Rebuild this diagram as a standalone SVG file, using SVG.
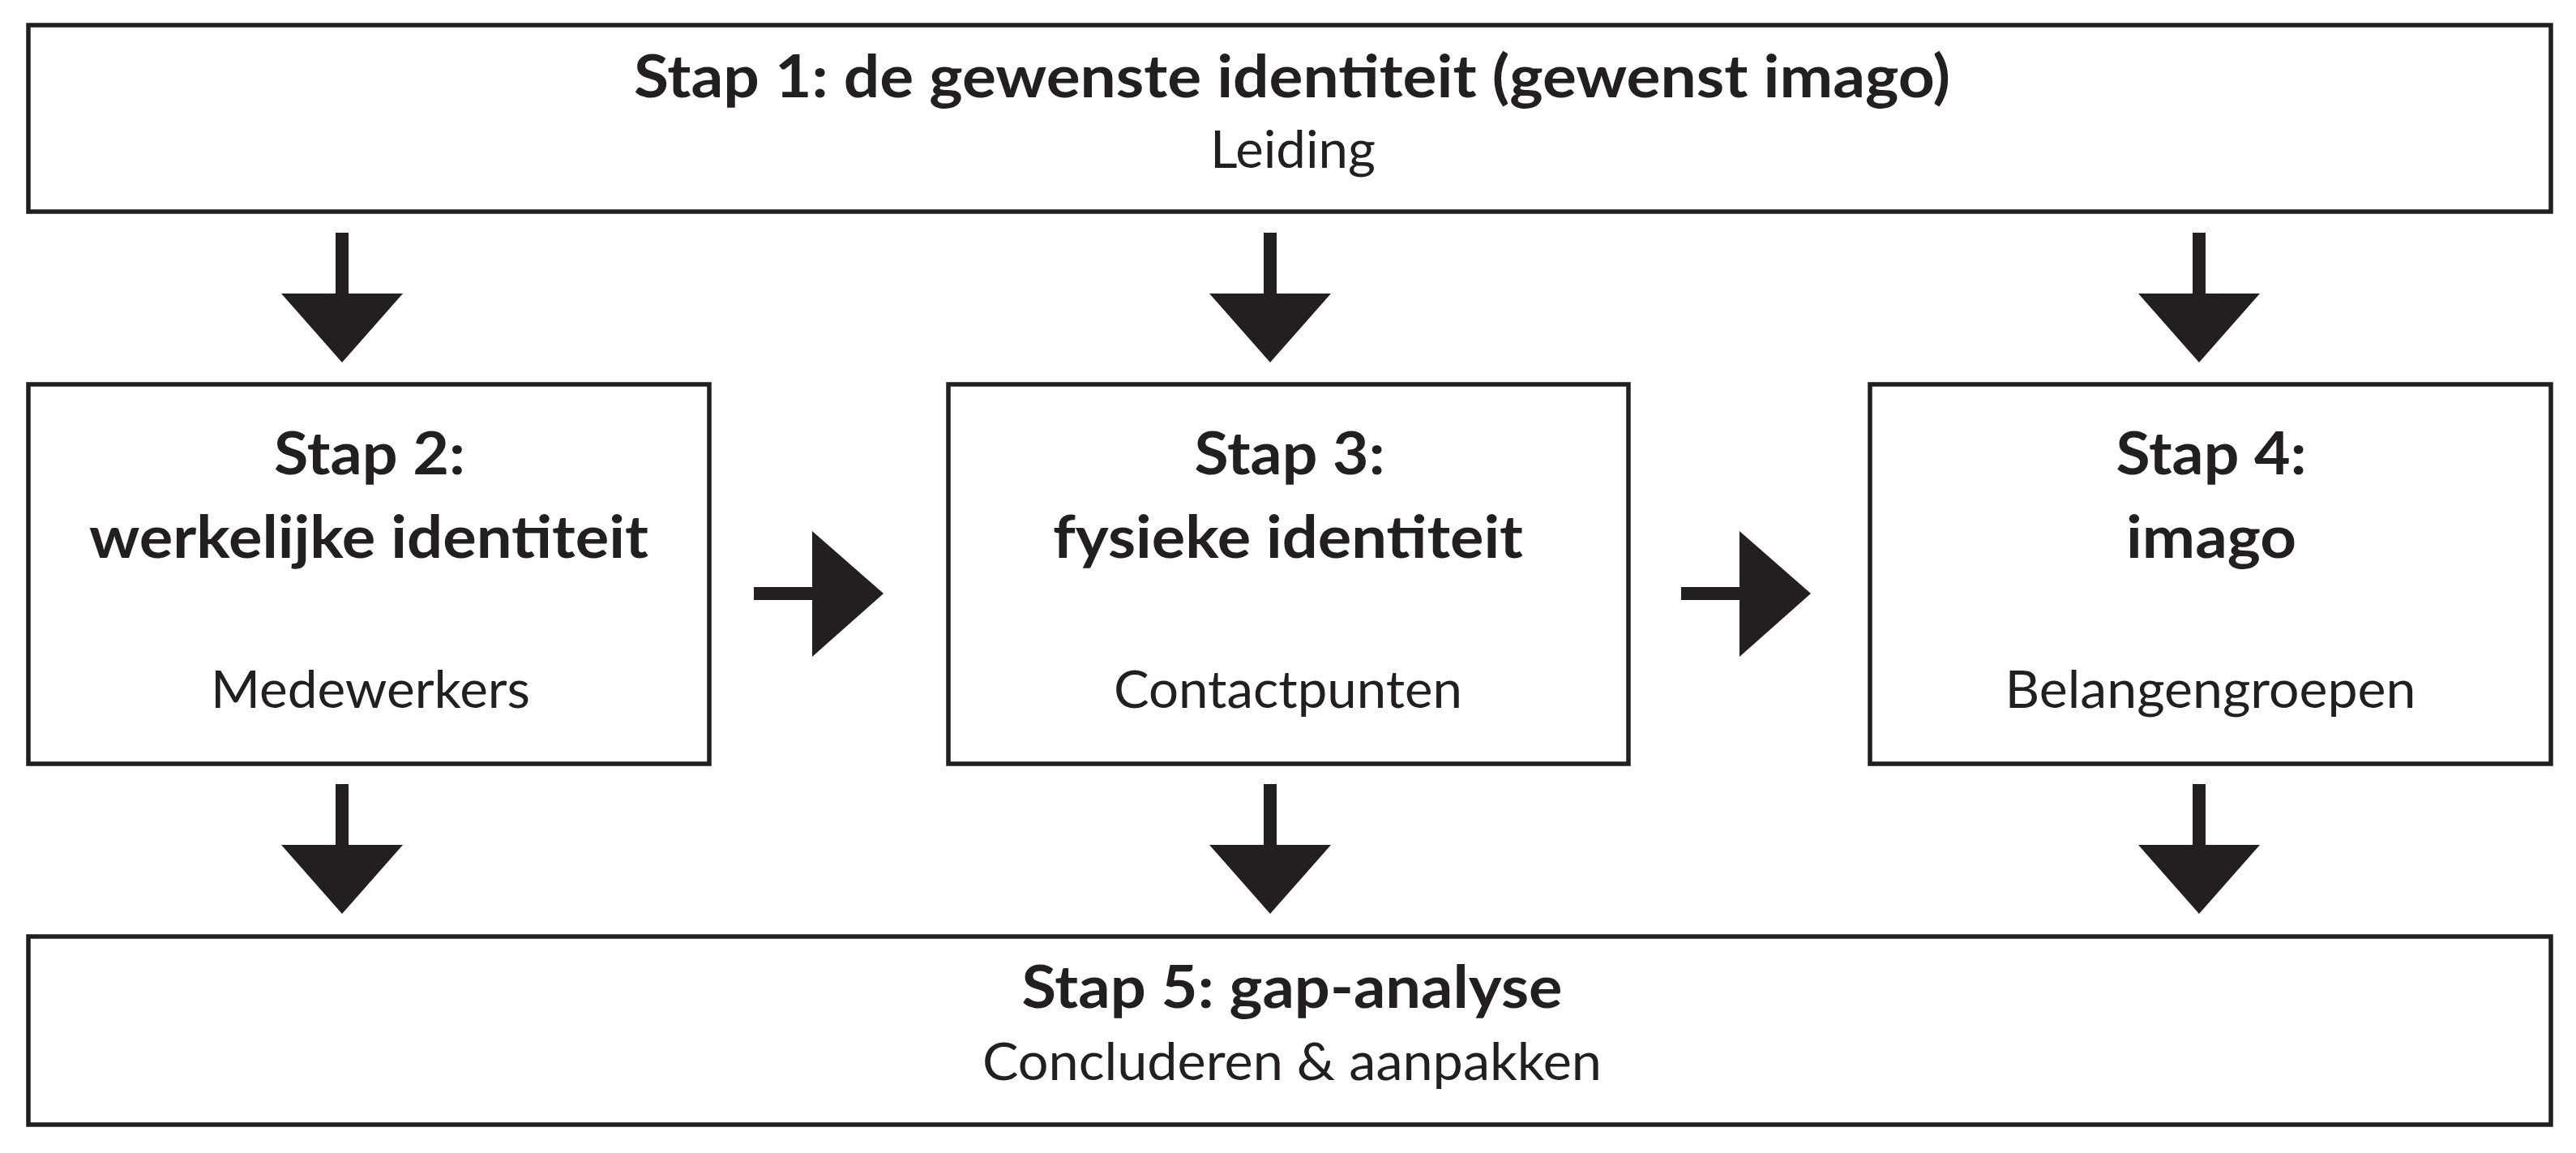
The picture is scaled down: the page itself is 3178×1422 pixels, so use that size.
<svg xmlns="http://www.w3.org/2000/svg" width="3178" height="1422" viewBox="0 0 3178 1422">
<style>
.box{fill:#ffffff;stroke:#231f20;stroke-width:5.5}
.h{font-family:Lato,"Open Sans","Liberation Sans",sans-serif;font-weight:700;font-size:73px;fill:#231f20;text-anchor:middle}
.r{font-family:Lato,"Open Sans","Liberation Sans",sans-serif;font-weight:400;font-size:63px;fill:#231f20;text-anchor:middle}
.shaft{stroke:#231f20;stroke-width:16;fill:none}
.head{fill:#231f20}
</style>
<rect width="3178" height="1422" fill="#ffffff"/>
<g id="stap1">
<rect class="box" x="35" y="31" width="3112" height="230"/>
<text class="h" x="1594" y="120" textLength="1624" lengthAdjust="spacingAndGlyphs">Stap 1: de gewenste identiteit (gewenst imago)</text>
<text class="r" x="1595" y="207" textLength="204" lengthAdjust="spacingAndGlyphs">Leiding</text>
</g>
<g id="stap2">
<rect class="box" x="35" y="474" width="840" height="468"/>
<text class="h" x="456" y="585" textLength="236" lengthAdjust="spacingAndGlyphs">Stap 2:</text>
<text class="h" x="455" y="688" textLength="690" lengthAdjust="spacingAndGlyphs">werkelijke identiteit</text>
<text class="r" x="457" y="873" textLength="394" lengthAdjust="spacingAndGlyphs">Medewerkers</text>
</g>
<g id="stap3">
<rect class="box" x="1170" y="474" width="839" height="468"/>
<text class="h" x="1591" y="585" textLength="235" lengthAdjust="spacingAndGlyphs">Stap 3:</text>
<text class="h" x="1589" y="688" textLength="580" lengthAdjust="spacingAndGlyphs">fysieke identiteit</text>
<text class="r" x="1589" y="873" textLength="430" lengthAdjust="spacingAndGlyphs">Contactpunten</text>
</g>
<g id="stap4">
<rect class="box" x="2307" y="474" width="840" height="468"/>
<text class="h" x="2728" y="585" textLength="235" lengthAdjust="spacingAndGlyphs">Stap 4:</text>
<text class="h" x="2728" y="688" textLength="210" lengthAdjust="spacingAndGlyphs">imago</text>
<text class="r" x="2727" y="873" textLength="507" lengthAdjust="spacingAndGlyphs">Belangengroepen</text>
</g>
<g id="stap5">
<rect class="box" x="35" y="1155" width="3112" height="232"/>
<text class="h" x="1594" y="1243" textLength="667" lengthAdjust="spacingAndGlyphs">Stap 5: gap-analyse</text>
<text class="r" x="1594" y="1332" textLength="764" lengthAdjust="spacingAndGlyphs">Concluderen &amp; aanpakken</text>
</g>
<g id="connectors">
<line class="shaft" x1="422" y1="287" x2="422" y2="366"/>
<polygon class="head" points="347,362 497,362 422,447"/>
<line class="shaft" x1="1567" y1="287" x2="1567" y2="366"/>
<polygon class="head" points="1492,362 1642,362 1567,447"/>
<line class="shaft" x1="2713" y1="287" x2="2713" y2="366"/>
<polygon class="head" points="2638,362 2788,362 2713,447"/>
<line class="shaft" x1="422" y1="967" x2="422" y2="1046"/>
<polygon class="head" points="347,1042 497,1042 422,1127"/>
<line class="shaft" x1="1567" y1="967" x2="1567" y2="1046"/>
<polygon class="head" points="1492,1042 1642,1042 1567,1127"/>
<line class="shaft" x1="2713" y1="967" x2="2713" y2="1046"/>
<polygon class="head" points="2638,1042 2788,1042 2713,1127"/>
<line class="shaft" x1="930" y1="732" x2="1006" y2="732"/>
<polygon class="head" points="1002,655 1002,810 1090,732"/>
<line class="shaft" x1="2074" y1="732" x2="2150" y2="732"/>
<polygon class="head" points="2146,655 2146,810 2234,732"/>
</g>
</svg>
